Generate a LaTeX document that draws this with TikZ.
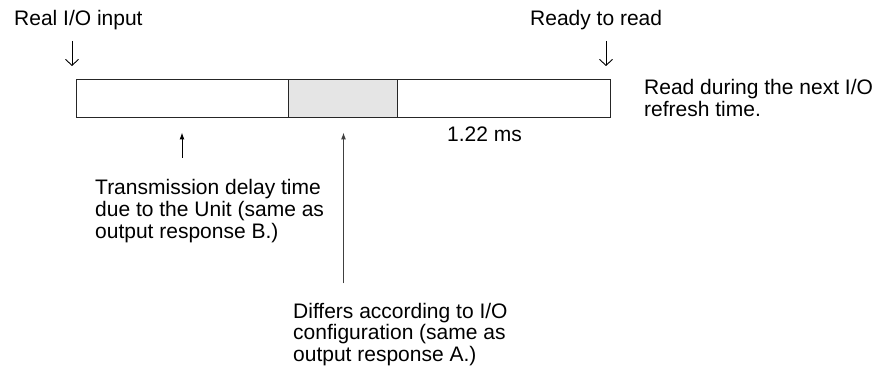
\documentclass[tikz,border=0pt]{standalone}
\usepackage{fontspec}
\setmainfont{Liberation Sans}
\usetikzlibrary{arrows.meta}
\begin{document}
\begin{tikzpicture}[x=1pt,y=-1pt,
  lbl/.style={inner sep=0pt, anchor=base west, align=left, font=\fontsize{21}{21.6}\selectfont},
  seg/.style={draw=black!85, line width=1pt, minimum height=38.3pt, inner sep=0pt, anchor=north west},
  down/.style={line width=0.9pt, -{Straight Barb[length=6pt,width=13pt]}},
  up/.style={line width=1pt, -{Latex[length=7pt,width=5pt]}}]
\useasboundingbox (0,0) rectangle (887,377);
% bar
\node[seg, minimum width=212.3pt] (s1) at (76,79) {};
\node[seg, minimum width=109pt, fill=gray!20] (s2) at (288.3,79) {};
\node[seg, minimum width=212.7pt] (s3) at (397.3,79) {};
% labels (anchor base = baseline of last line)
\node[lbl] (real) at (14,26) {Real I/O input};
\node[lbl] (ready) at (530,26) {Ready to read};
\node[lbl] (next) at (644,116.6) {Read during the next I/O\\refresh time.};
\node[lbl] (ms) at (447,142) {1.22 ms};
\node[lbl] (trans) at (95,238.2) {Transmission delay time\\due to the Unit (same as\\output response B.)};
\node[lbl] (diff) at (293,361.2) {Differs according to I/O\\configuration (same as\\output response A.)};
% down arrows
\coordinate (d1s) at (72,41);
\coordinate (d1e) at (72,66);
\coordinate (d2s) at (606,41);
\coordinate (d2e) at (606,66);
\draw[down] (d1s) -- (d1e);
\draw[down] (d2s) -- (d2e);
% up arrows
\coordinate (u1s) at (182,158);
\coordinate (u1e) at (182,132.5);
\coordinate (u2s) at (343.5,283);
\coordinate (u2e) at (343.5,132.5);
\draw[up] (u1s) -- (u1e);
\draw[up, draw=black!75, fill=black!75] (u2s) -- (u2e);
\end{tikzpicture}
\end{document}
